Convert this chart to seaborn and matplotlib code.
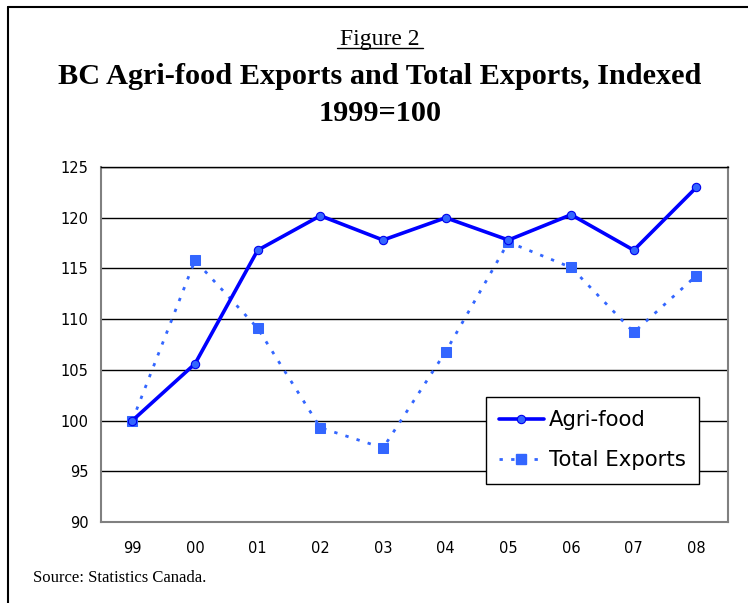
import matplotlib
matplotlib.use("Agg")
import matplotlib.pyplot as plt
import seaborn as sns
import pandas as pd
import numpy as np
from matplotlib.lines import Line2D

years = ["99", "00", "01", "02", "03", "04", "05", "06", "07", "08"]
agri_food = [100.0, 105.6, 116.8, 120.2, 117.8, 120.0, 117.8, 120.3, 116.8, 123.0]
total_exports = [100.0, 115.8, 109.1, 99.3, 97.3, 106.8, 117.6, 115.1, 108.7, 114.3]
y_ticks = [90, 95, 100, 105, 110, 115, 120, 125]

sns.set_theme(style="white")
plt.rcParams['font.family'] = ['DejaVu Sans']
plt.rcParams['text.color'] = 'black'
plt.rcParams['xtick.color'] = 'black'
plt.rcParams['ytick.color'] = 'black'

df = pd.DataFrame({"pos": np.arange(len(years)), "year": years,
                   "Agri-food": agri_food, "Total Exports": total_exports})

fig = plt.figure(figsize=(7.48, 6.03), dpi=100)
ax = fig.add_axes([0.135, 0.1343, 0.838, 0.5887])

for y in y_ticks[1:]:
    ax.axhline(y, color="black", lw=1.0, zorder=0)

sns.lineplot(data=df, x="pos", y="Total Exports", ax=ax, color="#3366FF",
             linestyle=(0, (1.2, 3)), lw=2.0, marker="s", markersize=6.5,
             markeredgecolor="#3366FF", markerfacecolor="#3366FF", zorder=3)
sns.lineplot(data=df, x="pos", y="Agri-food", ax=ax, color="#0000FF",
             lw=2.6, marker="o", markersize=6,
             markeredgecolor="#0000EE", markerfacecolor="#3366FF",
             markeredgewidth=0.8, zorder=4)

ax.set_xlim(-0.5, len(years) - 0.5)
ax.set_ylim(90, 125)
ax.set_yticks(y_ticks)
ax.set_yticklabels([str(v) for v in y_ticks], fontsize=10.5)
ax.set_xticks(np.arange(len(years)))
ax.set_xticklabels(years, fontsize=10.5)
ax.set_xticks(np.arange(-0.5, len(years)), minor=True)
ax.tick_params(axis="x", which="major", length=0, pad=14)
ax.tick_params(axis="x", which="minor", length=6, width=1.2, color="#808080", direction="out")
ax.tick_params(axis="y", length=0, pad=9)
ax.set_xlabel("")
ax.set_ylabel("")
for s in ["left", "bottom", "right"]:
    ax.spines[s].set_color("#808080")
    ax.spines[s].set_linewidth(1.5)
ax.spines["top"].set_color("black")
ax.spines["top"].set_linewidth(1.0)

handles = [
    Line2D([], [], color="#0000FF", lw=2.6, marker="o", markersize=6,
           markerfacecolor="#3366FF", markeredgecolor="#0000EE", markeredgewidth=0.8),
    Line2D([], [], color="#3366FF", lw=2.0, linestyle=(0, (1.2, 3)), marker="s",
           markersize=6.5, markerfacecolor="#3366FF", markeredgecolor="#3366FF"),
]
leg = ax.legend(handles, ["Agri-food", "Total Exports"], loc="upper left",
                bbox_to_anchor=(0.614, 0.352), fontsize=15.3, frameon=True,
                fancybox=False, edgecolor="black", framealpha=1,
                handlelength=2.1, handletextpad=0.25, labelspacing=0.95,
                borderpad=0.62, borderaxespad=0)
leg.get_frame().set_linewidth(1.0)

serif = ["Liberation Serif", "DejaVu Serif"]
fig.text(0.508, 0.935, "Figure 2", ha="center", va="center", fontsize=17,
         family=serif)
fig.add_artist(Line2D([0.451, 0.566], [0.921, 0.921], color="black", lw=1.0,
                      transform=fig.transFigure))
fig.text(0.508, 0.873, "BC Agri-food Exports and Total Exports, Indexed",
         ha="center", va="center", fontsize=21.8, fontweight="bold", family=serif)
fig.text(0.508, 0.811, "1999=100", ha="center", va="center", fontsize=21.8,
         fontweight="bold", family=serif)
fig.text(0.044, 0.041, "Source: Statistics Canada.", ha="left", va="center",
         fontsize=12, family=serif)

# page frame (top and left edges)
fig.add_artist(Line2D([0.0107, 0.0107], [0.0, 0.988], color="black", lw=1.5,
                      transform=fig.transFigure))
fig.add_artist(Line2D([0.0107, 1.0], [0.988, 0.988], color="black", lw=1.5,
                      transform=fig.transFigure))

fig.savefig("out.png", dpi=100)
